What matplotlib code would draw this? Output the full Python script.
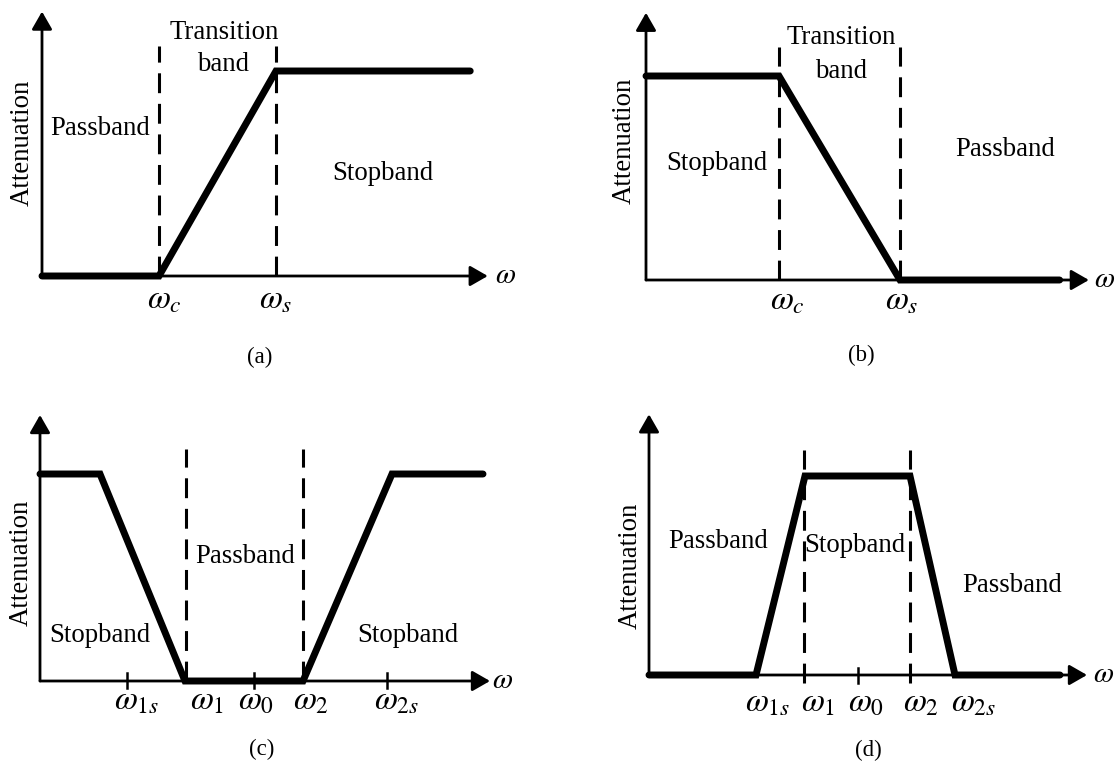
import matplotlib
matplotlib.use("Agg")
import matplotlib.pyplot as plt

# ---------------- data ----------------
# (a) low-pass: attenuation vs frequency
a_freq = [0, 1.0, 2.0, 3.66]
a_atten = [0, 0, 1, 1]
a_edges = [1.0, 2.0]
a_edge_labels = [r"$\omega_c$", r"$\omega_s$"]

# (b) high-pass
b_freq = [0, 1.0, 1.91, 3.11]
b_atten = [1, 1, 0, 0]
b_edges = [1.0, 1.91]
b_edge_labels = [r"$\omega_c$", r"$\omega_s$"]

# (c) band-pass
c_freq = [0, 0.60, 1.45, 2.63, 3.52, 4.43]
c_atten = [1, 1, 0, 0, 1, 1]
c_edges = [1.46, 2.63]
c_ticks = [0.87, 2.14, 3.47]
c_freq_labels = [r"$\omega_{1s}$", r"$\omega_1$", r"$\omega_0$", r"$\omega_2$", r"$\omega_{2s}$"]

# (d) band-stop
d_freq = [0, 1.07, 1.56, 2.61, 3.06, 4.11]
d_atten = [0, 0, 1, 1, 0, 0]
d_edges = [1.55, 2.61]
d_ticks = [2.09]
d_freq_labels = [r"$\omega_{1s}$", r"$\omega_1$", r"$\omega_0$", r"$\omega_2$", r"$\omega_{2s}$"]

# ---------------- style ----------------
W, H = 1117, 763
plt.rcParams["font.family"] = ["Liberation Serif", "DejaVu Serif"]
plt.rcParams["mathtext.fontset"] = "stix"

FS = 19.3
FS_W = 24
FS_AX = 21
FS_CAP = 16.5

fig = plt.figure(figsize=(W / 100, H / 100), dpi=100)


def make_ax(ox, oy, sx, sy):
    ax = fig.add_axes([0, 0, 1, 1])
    ax.set_xlim(-ox / sx, (W - ox) / sx)
    ax.set_ylim(-(H - oy) / sy, oy / sy)
    ax.axis("off")
    ax.patch.set_alpha(0)
    return ax


def draw_axes(ax, xend, ytop):
    style = "-|>,head_length=1.08,head_width=0.62"
    kw = dict(arrowstyle=style, lw=2.0, color="k", mutation_scale=10,
              shrinkA=0, shrinkB=0)
    ax.annotate("", xy=(xend, 0), xytext=(0, 0), arrowprops=kw)
    ax.annotate("", xy=(0, ytop), xytext=(0, 0), arrowprops=kw)


def curve(ax, x, y):
    ax.plot(x, y, color="k", lw=5.0, solid_capstyle="round",
            solid_joinstyle="miter", zorder=3)


def dashed(ax, xs, top, bottom=0.0):
    for e in xs:
        ax.plot([e, e], [bottom, top], color="k", lw=2.2, dashes=(6.5, 3.5),
                zorder=2)


def ticks(ax, xs, lo=-0.035, hi=0.04):
    for t in xs:
        ax.plot([t, t], [lo, hi], color="k", lw=1.8, zorder=2)


def txt(ax, x, y, s, fs=FS, **kw):
    ax.text(x, y, s, ha="center", va="center", fontsize=fs, **kw)


# ---------------- (a) ----------------
ax = make_ax(42, 276, 117, 205)
draw_axes(ax, 3.81, 1.29)
dashed(ax, a_edges, 1.12)
curve(ax, a_freq, a_atten)
for xl, s in zip([1.05, 2.0], a_edge_labels):
    txt(ax, xl, -0.12, s, fs=FS_W)
txt(ax, 3.96, 0.0, r"$\omega$", fs=FS_AX)
txt(ax, 1.56, 1.19, "Transition")
txt(ax, 1.55, 1.03, "band")
txt(ax, 0.50, 0.72, "Passband")
txt(ax, 2.91, 0.50, "Stopband")
txt(ax, -0.17, 0.65, "Attenuation", rotation=90)
txt(ax, 1.86, -0.395, "(a)", fs=FS_CAP)

# ---------------- (b) ----------------
ax = make_ax(646, 280, 133, 204)
draw_axes(ax, 3.33, 1.31)
dashed(ax, b_edges, 1.14)
curve(ax, b_freq, b_atten)
for xl, s in zip([1.06, 1.92], b_edge_labels):
    txt(ax, xl, -0.105, s, fs=FS_W)
txt(ax, 3.45, 0.0, r"$\omega$", fs=FS_AX)
txt(ax, 1.47, 1.19, "Transition")
txt(ax, 1.47, 1.02, "band")
txt(ax, 0.53, 0.57, "Stopband")
txt(ax, 2.70, 0.64, "Passband")
txt(ax, -0.16, 0.68, "Attenuation", rotation=90)
txt(ax, 1.62, -0.37, "(b)", fs=FS_CAP)

# ---------------- (c) ----------------
ax = make_ax(40, 681, 100, 207)
draw_axes(ax, 4.50, 1.285)
dashed(ax, c_edges, 1.12)
ticks(ax, c_ticks)
curve(ax, c_freq, c_atten)
for xl, s in zip([0.97, 1.67, 2.16, 2.71, 3.57], c_freq_labels):
    txt(ax, xl, -0.10, s, fs=FS_W)
txt(ax, 4.63, 0.0, r"$\omega$", fs=FS_AX)
txt(ax, 2.05, 0.60, "Passband")
txt(ax, 0.60, 0.22, "Stopband")
txt(ax, 3.68, 0.22, "Stopband")
txt(ax, -0.19, 0.57, "Attenuation", rotation=90)
txt(ax, 2.22, -0.33, "(c)", fs=FS_CAP)

# ---------------- (d) ----------------
ax = make_ax(649, 675, 100, 199)
draw_axes(ax, 4.38, 1.31)
dashed(ax, d_edges, 1.13, bottom=-0.04)
ticks(ax, d_ticks, lo=-0.04, hi=0.035)
curve(ax, d_freq, d_atten)
for xl, s in zip([1.19, 1.69, 2.17, 2.72, 3.25], d_freq_labels):
    txt(ax, xl, -0.14, s, fs=FS_W)
txt(ax, 4.55, 0.0, r"$\omega$", fs=FS_AX)
txt(ax, 0.69, 0.67, "Passband")
txt(ax, 2.06, 0.65, "Stopband")
txt(ax, 3.63, 0.45, "Passband")
txt(ax, -0.19, 0.55, "Attenuation", rotation=90)
txt(ax, 2.19, -0.38, "(d)", fs=FS_CAP)

fig.savefig("out.png", dpi=100)
